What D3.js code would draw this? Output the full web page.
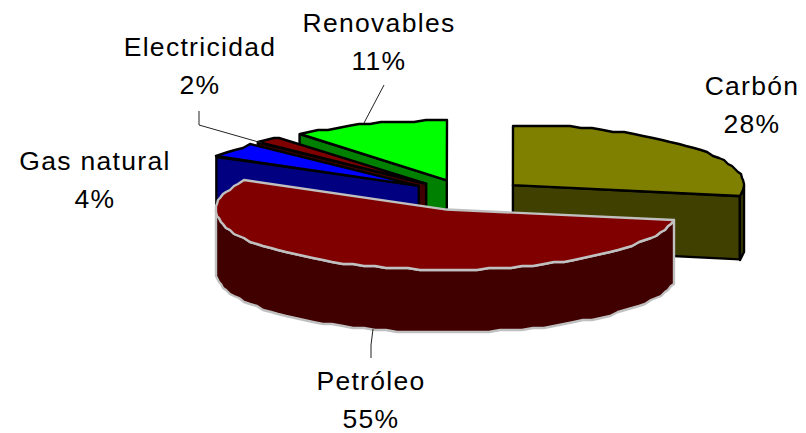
<!DOCTYPE html>
<html>
<head>
<meta charset="utf-8">
<script src="https://d3js.org/d3.v7.min.js"></script>
<style>
html, body { margin: 0; padding: 0; background: #fff; }
text { font-family: "Liberation Sans", Arial, sans-serif; font-size: 26.5px; letter-spacing: 1.3px; fill: #000; }
</style>
</head>
<body>
<script>
var categories = ["Carbón", "Petróleo", "Gas natural", "Electricidad", "Renovables"];
var shares = [28, 55, 4, 2, 11];
var topColors = ["#808000", "#800000", "#0000ff", "#800000", "#00ff00"];
var sideColors = ["#404000", "#400000", "#000080", "#400000", "#008000"];
var edgeColors = ["#000", "#c0c0c0", "#000", "#000", "#000"];
var drawOrder = [0, 4, 3, 2, 1];

var width = 806, height = 433;
var center = {x: 467, y: 195};
var rx = 231, ry = 60, depth = 63, explode = 0.258;

var svg = d3.select("body").append("svg")
    .attr("width", width)
    .attr("height", height);

var x = d3.scaleLinear().domain([-1, 1]).range([center.x - rx, center.x + rx]);
var y = d3.scaleLinear().domain([-1, 1]).range([center.y + ry, center.y - ry]);

var arcs = d3.pie().sort(null)(shares);

var path = d3.line();

// point on the slice at given angle and radius, clockwise from the top
function project(d, angle, r, z) {
    var mid = (d.startAngle + d.endAngle) / 2;
    var ux = explode * Math.sin(mid) + r * Math.sin(angle);
    var uy = explode * Math.cos(mid) + r * Math.cos(angle);
    return [x(ux), y(uy) + z];
}

// the rim comes out slightly stepped in the original, so snap it a little
function rim(d, a0, a1, z) {
    var pts = d3.range(a0, a1, 0.05).concat([a1]).map(function(a) {
        var p = project(d, a, 1, z);
        return [Math.round(p[0]), Math.round(p[1] / 2) * 2];
    });
    return pts;
}

var leaders = [
    [[384, 85], [364, 123]],
    [[199, 111], [199, 125], [262, 143]],
    [[371, 358], [371, 345], [373, 329]]
];

drawOrder.forEach(function(i) {
    var d = arcs[i];
    var g = svg.append("g")
        .attr("stroke", edgeColors[i])
        .attr("stroke-width", 2.4)
        .attr("stroke-linejoin", "round");

    // flat cut faces, only the ones turned toward the viewer
    [d.startAngle, d.endAngle].forEach(function(a, k) {
        var facing = k == 0 ? Math.sin(a) < -1e-6 : Math.sin(a) > 1e-6;
        if (!facing) return;
        g.append("path")
            .attr("fill", sideColors[i])
            .attr("d", path([
                project(d, a, 0, 0),
                project(d, a, 1, 0),
                project(d, a, 1, depth),
                project(d, a, 0, depth)
            ]) + "Z");
    });

    // outer wall, only the part facing the viewer
    var a0 = Math.max(d.startAngle, Math.PI / 2);
    var a1 = Math.min(d.endAngle, Math.PI * 1.5);
    if (a1 > a0) {
        g.append("path")
            .attr("fill", sideColors[i])
            .attr("d", path(rim(d, a0, a1, 0).concat(rim(d, a0, a1, depth).reverse())) + "Z");
    }

    // top surface
    g.append("path")
        .attr("fill", topColors[i])
        .attr("d", path([project(d, 0, 0, 0)].concat(rim(d, d.startAngle, d.endAngle, 0))) + "Z");
});

leaders.forEach(function(pts) {
    svg.append("path")
        .attr("d", path(pts))
        .attr("fill", "none")
        .attr("stroke", "#222")
        .attr("stroke-width", 1);
});

var labelPos = [[752, 86], [371, 381], [95, 161], [200, 47], [379, 23]];

categories.forEach(function(c, i) {
    var t = svg.append("text")
        .attr("text-anchor", "middle")
        .attr("x", labelPos[i][0])
        .attr("y", labelPos[i][1] + 9);
    t.append("tspan").text(c);
    t.append("tspan")
        .attr("x", labelPos[i][0])
        .attr("dy", 38)
        .text(shares[i] + "%");
});
</script>
</body>
</html>
